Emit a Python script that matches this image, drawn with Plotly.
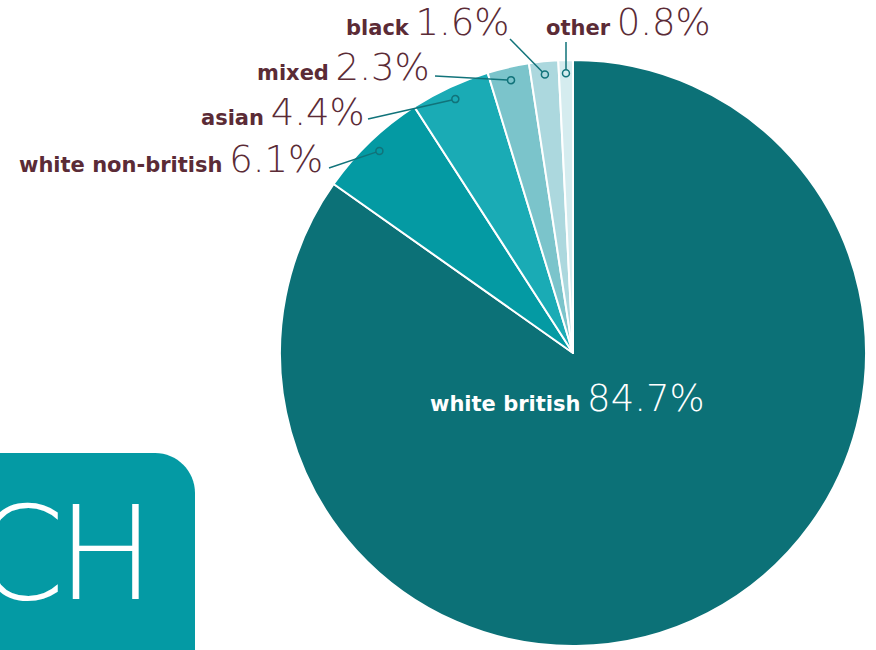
import math
import plotly.graph_objects as go

# ---- data ----
categories = ["white british", "white non-british", "asian", "mixed", "black", "other"]
values = [84.7, 6.1, 4.4, 2.3, 1.6, 0.8]

# ---- styles / layout constants ----
colors = ["#0c7177", "#049aa3", "#1aabb5", "#7bc4cb", "#acd8de", "#d5ecef"]
W, H = 876, 650
CX, CY, R = 573, 353, 293
DOT_R = 0.955
DOT_SIZE = 3.5
label_color = "#5b2b36"
line_color = "#11737a"
# label anchor (x, y of text box bottom), xanchor, and leader end point
label_pos = {
    "white non-british": (325, 183, "right", (329, 168)),
    "asian": (367, 136, "right", (368, 119)),
    "mixed": (432, 91, "right", (435, 76)),
    "black": (512, 46, "right", (510, 39)),
    "other": (544, 46, "left", (566, 42)),
}
inside_pos = (567, 422)

fig = go.Figure()
fig.add_trace(go.Pie(
    labels=categories, values=values, sort=False, direction="clockwise", rotation=0,
    marker=dict(colors=colors, line=dict(color="white", width=2)),
    textinfo="none", hoverinfo="skip", showlegend=False,
    domain=dict(x=[(CX - R) / W, (CX + R) / W],
                y=[(H - CY - R) / H, (H - CY + R) / H]),
))

shapes = [dict(
    type="path", xref="x", yref="y", layer="below",
    path="M -5,670 L -5,453 L 155,453 C 177,453 195,471 195,493 L 195,670 Z",
    fillcolor="#049aa4", line=dict(width=0),
)]

total = sum(values)
cum = 0.0
annotations = []
for cat, v in zip(categories, values):
    mid = (cum + v / 2) / total
    cum += v
    if cat not in label_pos:
        continue
    ang = 2 * math.pi * mid
    dx = CX + DOT_R * R * math.sin(ang)
    dy = CY - DOT_R * R * math.cos(ang)
    lx, ly, xa, (ex, ey) = label_pos[cat]
    # leader line ending at the rim of the small circle
    L = math.hypot(dx - ex, dy - ey)
    sx = dx - (dx - ex) / L * DOT_SIZE
    sy = dy - (dy - ey) / L * DOT_SIZE
    shapes.append(dict(type="line", xref="x", yref="y", layer="above",
                       x0=ex, y0=ey, x1=sx, y1=sy,
                       line=dict(color=line_color, width=1.5)))
    shapes.append(dict(type="circle", xref="x", yref="y", layer="above",
                       x0=dx - DOT_SIZE, x1=dx + DOT_SIZE,
                       y0=dy - DOT_SIZE, y1=dy + DOT_SIZE,
                       line=dict(color=line_color, width=1.5)))
    annotations.append(dict(
        x=lx, y=ly, xref="x", yref="y", xanchor=xa, yanchor="bottom", showarrow=False,
        text=f"<b>{cat}</b> <span style='font-size:37px;font-weight:200'>{v:.1f}%</span>",
        font=dict(family="DejaVu Sans", size=21, color=label_color),
    ))

# inside label for the largest slice
annotations.append(dict(
    x=inside_pos[0], y=inside_pos[1], xref="x", yref="y", xanchor="center", yanchor="bottom",
    showarrow=False,
    text=f"<b>{categories[0]}</b> <span style='font-size:37px;font-weight:200'>{values[0]:.1f}%</span>",
    font=dict(family="DejaVu Sans", size=21, color="white"),
))

# partial "CH" badge at bottom-left
for ch, x in (("C", 67), ("H", 157)):
    annotations.append(dict(
        x=x, y=554, xref="x", yref="y", xanchor="right", yanchor="middle", showarrow=False,
        text=f"<span style='font-weight:200'>{ch}</span>",
        font=dict(family="DejaVu Sans", size=130, color="white"),
    ))

fig.update_layout(
    width=W, height=H, margin=dict(l=0, r=0, t=0, b=0),
    paper_bgcolor="white", plot_bgcolor="rgba(0,0,0,0)",
    xaxis=dict(range=[0, W], visible=False, domain=[0, 1], fixedrange=True),
    yaxis=dict(range=[H, 0], visible=False, domain=[0, 1], fixedrange=True),
    shapes=shapes,
    annotations=annotations,
)

fig.write_html("out.html", config={"displayModeBar": False},
               post_script="document.body.style.margin='0';")
